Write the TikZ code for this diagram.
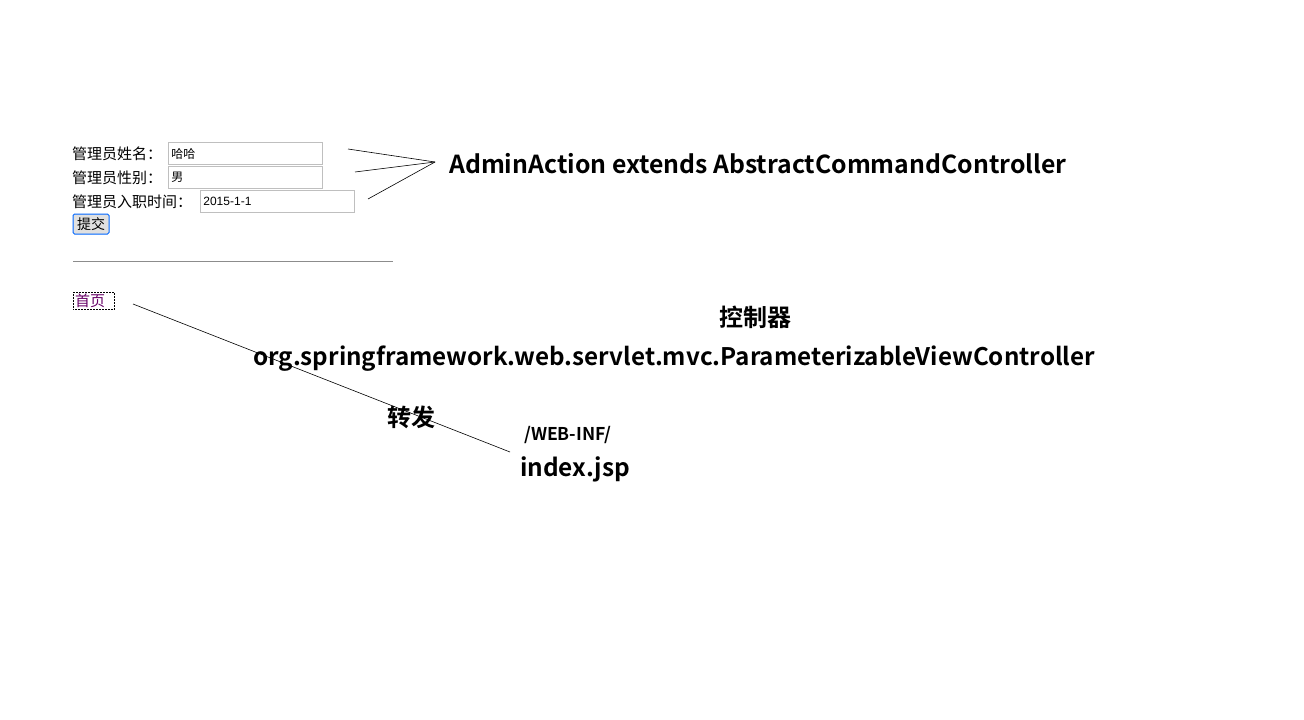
\documentclass[tikz,border=0pt]{standalone}
\usepackage{fontspec}
\setmainfont{Noto Sans CJK SC}
\newfontfamily\cjkb{Noto Sans CJK SC Bold}
\newfontfamily\formfont{Noto Sans CJK SC}
\newfontfamily\inputfont{Liberation Sans}
\begin{document}
\begin{tikzpicture}[x=1pt,y=-1pt,
  big/.style={font=\cjkb\fontsize{24}{26}\selectfont, inner sep=0pt, anchor=west},
  mid/.style={font=\cjkb\fontsize{24}{26}\selectfont, inner sep=0pt, anchor=center},
  lbl/.style={font=\formfont\fontsize{15}{16}\selectfont, inner sep=0pt, anchor=west},
  inbox/.style={draw=black!25, line width=0.8pt, minimum height=22pt, minimum width=154pt, text width=148pt, inner sep=2pt, anchor=west, font=\formfont\fontsize{12}{14}\selectfont, text depth=0pt},
  link/.style={line width=0.6pt}]
\useasboundingbox (0,0) rectangle (1304,720);
\fill[white] (0,0) rectangle (1304,720);
% form
\node[lbl] (l1) at (72,154) {管理员姓名：};
\node[lbl] (l2) at (72,178) {管理员性别：};
\node[lbl] (l3) at (72,202) {管理员入职时间：};
\node[inbox] (i1) at (168,153) {哈哈};
\node[inbox] (i2) at (168,177) {男};
\node[inbox, font=\inputfont\fontsize{12}{14}\selectfont] (i3) at (200,201) {2015-1-1};
\node[draw=blue!60!cyan, fill=black!12, rounded corners=1.5pt, line width=1pt, minimum width=36pt, minimum height=20pt, inner sep=0pt, font=\formfont\fontsize{14}{14}\selectfont] (btn) at (91,224) {提交};
\draw[black!45, line width=0.8pt] (73,261) -- (393,261);
\node[draw, densely dotted, line width=0.5pt, text=violet!80!black, font=\formfont\fontsize{15}{16}\selectfont, inner sep=1pt, minimum width=41pt, minimum height=17pt, anchor=west] (home) at (73,300.5) {首页\hphantom{x}};
% texts
\node[big, font=\cjkb\fontsize{24.8}{26}\selectfont] (admin) at (449,163.5) {AdminAction extends AbstractCommandController};
\node[mid] (ctl) at (755,317) {控制器};
\node[big, font=\cjkb\fontsize{24.2}{26}\selectfont] (pvc) at (253,359) {org.springframework.web.servlet.mvc.ParameterizableViewController};
\node[mid] (fw) at (411,417) {转发};
\node[big, font=\cjkb\fontsize{17.6}{19}\selectfont] (webinf) at (524,435) {/WEB-INF/};
\node[big, font=\cjkb\fontsize{24.4}{26}\selectfont] (idx) at (520,469) {index.jsp};
% connectors
\coordinate (a1) at (348,149);
\coordinate (a2) at (355,172);
\coordinate (a3) at (368,199);
\coordinate (tip) at (435,162);
\coordinate (h0) at (133,304);
\coordinate (h1) at (510,452);
\draw[link] (a1) -- (tip);
\draw[link] (a2) -- (tip);
\draw[link] (a3) -- (tip);
\draw[link] (h0) -- (h1);
\end{tikzpicture}
\end{document}
